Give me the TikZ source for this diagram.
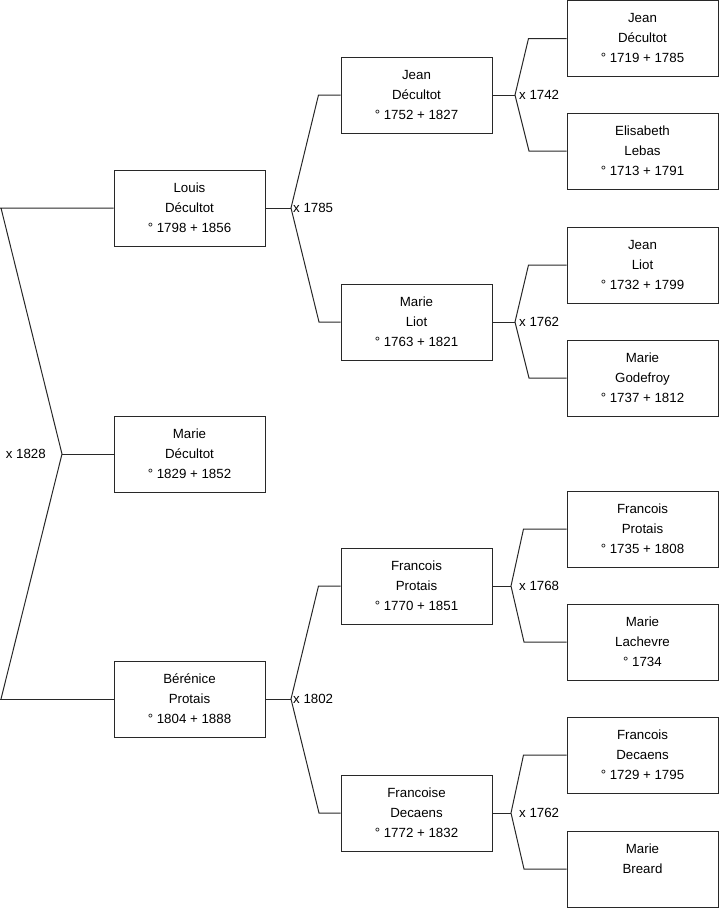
\documentclass[tikz,border=0pt]{standalone}
\usepackage{fontspec}
\setmainfont{Liberation Sans}
\usetikzlibrary{positioning}
\definecolor{linegray}{RGB}{40,40,40}
\newcommand{\who}[3]{\strut#1\\\strut#2\\\strut#3}

\begin{document}
\begin{tikzpicture}[x=1pt, y=-1pt,
    person/.style={draw=linegray, line width=1pt, minimum width=151pt, minimum height=76pt,
        inner sep=0pt, align=center, font=\fontsize{13.3}{20}\selectfont},
    link/.style={draw=linegray, line width=1pt},
    wed/.style={font=\fontsize{13.3}{16}\selectfont, inner sep=0pt, anchor=west}]

    \useasboundingbox (0,0) rectangle (719,908);

    % Child
    \node[person] (marie) at (189.5,454) {\who{Marie}{Décultot}{° 1829 + 1852}};

    % Parents
    \node[person] (louis) at (189.5,208) {\who{Louis}{Décultot}{° 1798 + 1856}};
    \node[person] (berenice) at (189.5,699) {\who{Bérénice}{Protais}{° 1804 + 1888}};

    % Grandparents
    \node[person] (jeanD) at (416.5,95) {\who{Jean}{Décultot}{° 1752 + 1827}};
    \node[person] (marieL) at (416.5,322) {\who{Marie}{Liot}{° 1763 + 1821}};
    \node[person] (francoisP) at (416.5,586) {\who{Francois}{Protais}{° 1770 + 1851}};
    \node[person] (francoiseD) at (416.5,813) {\who{Francoise}{Decaens}{° 1772 + 1832}};

    % Great-grandparents
    \node[person] (jeanD2) at (642.5,38.5) {\who{Jean}{Décultot}{° 1719 + 1785}};
    \node[person] (elisabeth) at (642.5,151) {\who{Elisabeth}{Lebas}{° 1713 + 1791}};
    \node[person] (jeanL) at (642.5,265) {\who{Jean}{Liot}{° 1732 + 1799}};
    \node[person] (marieG) at (642.5,378) {\who{Marie}{Godefroy}{° 1737 + 1812}};
    \node[person] (francoisP2) at (642.5,529) {\who{Francois}{Protais}{° 1735 + 1808}};
    \node[person] (marieLa) at (642.5,642) {\who{Marie}{Lachevre}{° 1734}};
    \node[person] (francoisD) at (642.5,755) {\who{Francois}{Decaens}{° 1729 + 1795}};
    \node[person] (marieB) at (642.5,869) {\who{Marie}{Breard}{}};

    % Forks
    \coordinate (top0) at (1,208);
    \coordinate (bot0) at (1,699);
    \coordinate (fork0) at (62,454);
    \coordinate (forkL) at (291,208);
    \coordinate (forkB) at (291,699);
    \coordinate (forkJ) at (515,95);
    \coordinate (forkM) at (515,322);
    \coordinate (forkF) at (511,586);
    \coordinate (forkD) at (511,813);

    % Marriages
    \node[wed, anchor=east] (w0) at (46,454) {x 1828};
    \node[wed] (wL) at (293,208) {x 1785};
    \node[wed] (wB) at (293,699) {x 1802};
    \node[wed] (wJ) at (519,95) {x 1742};
    \node[wed] (wM) at (519,322) {x 1762};
    \node[wed] (wF) at (519,586) {x 1768};
    \node[wed] (wD) at (519,813) {x 1762};

    % Links
    \draw[link] (louis.west) -- (0,208) (top0) -- (fork0) -- (bot0);
    \draw[link] (berenice.west) -- (0,699);
    \draw[link] (fork0) -- (marie.west);

    \draw[link] (louis.east) -- (forkL);
    \draw[link] (jeanD.west) -- ++(-22,0) -- (forkL) -- (319,322) -- (marieL.west);
    \draw[link] (berenice.east) -- (forkB);
    \draw[link] (francoisP.west) -- ++(-22,0) -- (forkB) -- (319,813) -- (francoiseD.west);

    \draw[link] (jeanD.east) -- (forkJ);
    \draw[link] (jeanD2.west) -- ++(-38,0) -- (forkJ) -- (529,151) -- (elisabeth.west);
    \draw[link] (marieL.east) -- (forkM);
    \draw[link] (jeanL.west) -- ++(-38,0) -- (forkM) -- (529,378) -- (marieG.west);
    \draw[link] (francoisP.east) -- (forkF);
    \draw[link] (francoisP2.west) -- ++(-43,0) -- (forkF) -- (524,642) -- (marieLa.west);
    \draw[link] (francoiseD.east) -- (forkD);
    \draw[link] (francoisD.west) -- ++(-43,0) -- (forkD) -- (524,869) -- (marieB.west);
\end{tikzpicture}
\end{document}
